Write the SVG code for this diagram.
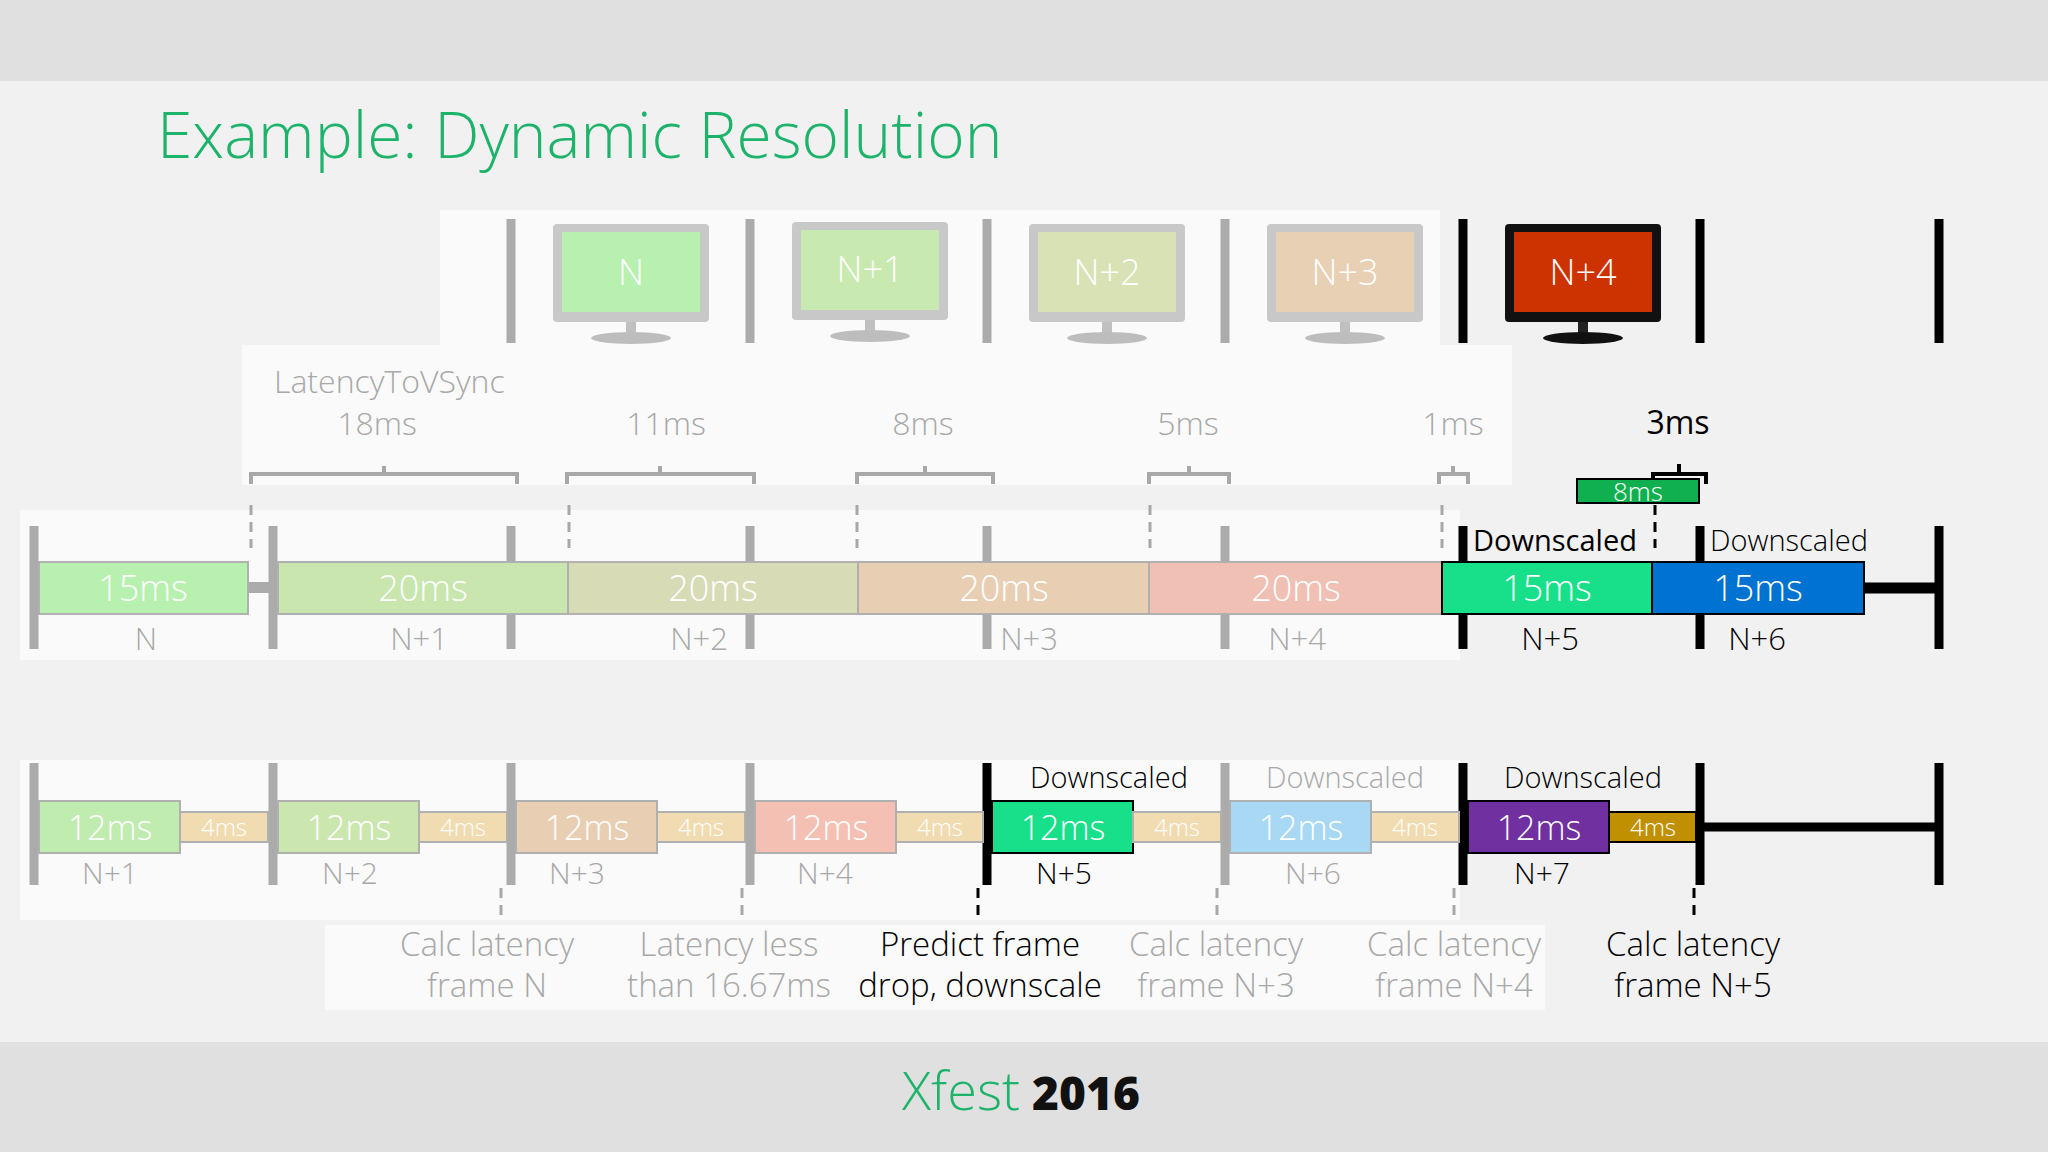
<svg xmlns="http://www.w3.org/2000/svg" width="2048" height="1152" viewBox="0 0 2048 1152">
<defs>
<style>
text{font-family:"Open Sans","Noto Sans","Liberation Sans",sans-serif;}
.lt{font-weight:300}
.g{fill:#a8a8a8}
.k{fill:#000}
.w{fill:#fff}
.tg{stroke:#ababab;stroke-width:9}
.tk{stroke:#000;stroke-width:9}
.br{fill:none;stroke:#a8a8a8;stroke-width:4}
.dg{stroke:#a8a8a8;stroke-width:3;stroke-dasharray:10,7}
.dk{stroke:#000;stroke-width:3;stroke-dasharray:10,7}
.bar{stroke:#b0b0b0;stroke-width:2}
.bk{stroke:#000;stroke-width:2}
</style>
</defs>
<rect width="2048" height="1152" fill="#f1f1f1"/>
<rect width="2048" height="81" fill="#e0e0e0"/>
<rect y="1042" width="2048" height="110" fill="#e0e0e0"/>
<rect x="440" y="210" width="1000" height="140" fill="#fafafa"/>
<rect x="242" y="345" width="1270" height="140" fill="#fafafa"/>
<rect x="20" y="510" width="1440" height="150" fill="#fafafa"/>
<rect x="20" y="760" width="1440" height="160" fill="#fafafa"/>
<rect x="325" y="925" width="1220" height="85" fill="#fafafa"/>
<text x="157" y="158" font-size="64" fill="#1db36a" class="lt">Example: Dynamic Resolution</text>

<g id="vsync-top">
<line class="tg" x1="511" y1="219" x2="511" y2="343"/>
<line class="tg" x1="750" y1="219" x2="750" y2="343"/>
<line class="tg" x1="987" y1="219" x2="987" y2="343"/>
<line class="tg" x1="1225" y1="219" x2="1225" y2="343"/>
<line class="tk" x1="1463" y1="219" x2="1463" y2="343"/>
<line class="tk" x1="1700" y1="219" x2="1700" y2="343"/>
<line class="tk" x1="1939" y1="219" x2="1939" y2="343"/>
</g>
<g id="mon-N">
<rect x="553" y="224" width="156" height="98" rx="4" fill="#c8c8c8"/><rect x="562" y="232" width="138" height="80" fill="#b8f0b0"/>
<rect x="626" y="322" width="10" height="14" fill="#c0c0c0"/><ellipse cx="631" cy="338" rx="40" ry="6" fill="#bdbdbd"/>
<text x="631" y="285" font-size="36" text-anchor="middle" class="w lt">N</text></g>
<g id="mon-N1">
<rect x="792" y="222" width="156" height="98" rx="4" fill="#c8c8c8"/><rect x="801" y="230" width="138" height="80" fill="#c8eab0"/>
<rect x="865" y="320" width="10" height="14" fill="#c0c0c0"/><ellipse cx="870" cy="336" rx="40" ry="6" fill="#bdbdbd"/>
<text x="870" y="282" font-size="36" text-anchor="middle" class="w lt">N+1</text></g>
<g id="mon-N2">
<rect x="1029" y="224" width="156" height="98" rx="4" fill="#c8c8c8"/><rect x="1038" y="232" width="138" height="80" fill="#d8e2b4"/>
<rect x="1102" y="322" width="10" height="14" fill="#c0c0c0"/><ellipse cx="1107" cy="338" rx="40" ry="6" fill="#bdbdbd"/>
<text x="1107" y="285" font-size="36" text-anchor="middle" class="w lt">N+2</text></g>
<g id="mon-N3">
<rect x="1267" y="224" width="156" height="98" rx="4" fill="#c8c8c8"/><rect x="1276" y="232" width="138" height="80" fill="#e8d0b4"/>
<rect x="1340" y="322" width="10" height="14" fill="#c0c0c0"/><ellipse cx="1345" cy="338" rx="40" ry="6" fill="#bdbdbd"/>
<text x="1345" y="285" font-size="36" text-anchor="middle" class="w lt">N+3</text></g>
<g id="mon-N4">
<rect x="1505" y="224" width="156" height="98" rx="4" fill="#111"/><rect x="1514" y="232" width="138" height="80" fill="#cc3300"/>
<rect x="1578" y="322" width="10" height="14" fill="#222"/><ellipse cx="1583" cy="338" rx="40" ry="6" fill="#111"/>
<text x="1583" y="285" font-size="36" text-anchor="middle" class="w lt">N+4</text></g>

<g id="latency-labels" font-size="32">
<text x="274" y="393" class="g lt">LatencyToVSync</text>
<text x="377" y="435" text-anchor="middle" class="g lt">18ms</text>
<text x="666" y="435" text-anchor="middle" class="g lt">11ms</text>
<text x="923" y="435" text-anchor="middle" class="g lt">8ms</text>
<text x="1188" y="435" text-anchor="middle" class="g lt">5ms</text>
<text x="1453" y="435" text-anchor="middle" class="g lt">1ms</text>
<text x="1678" y="434" text-anchor="middle" class="k">3ms</text>
</g>
<g id="brackets">
<path class="br" d="M251 484V474H517V484M384 474V466"/>
<path class="br" d="M567 484V474H754V484M660 474V466"/>
<path class="br" d="M857 484V474H993V484M925 474V466"/>
<path class="br" d="M1149 484V474H1229V484M1189 474V466"/>
<path class="br" d="M1439 484V474H1468V484M1453 474V466"/>
<path d="M1653 484V474H1706V484M1679 474V464" fill="none" stroke="#000" stroke-width="4"/>
<rect x="1577" y="479" width="122" height="24" fill="#10b050" stroke="#000" stroke-width="2"/>
<text x="1638" y="501" font-size="26" text-anchor="middle" class="w lt">8ms</text>
</g>
<g id="connectors">
<line class="dg" x1="251" y1="505" x2="251" y2="548"/>
<line class="dg" x1="569" y1="505" x2="569" y2="548"/>
<line class="dg" x1="857" y1="505" x2="857" y2="548"/>
<line class="dg" x1="1150" y1="505" x2="1150" y2="548"/>
<line class="dg" x1="1442" y1="505" x2="1442" y2="548"/>
<line class="dk" x1="1655" y1="505" x2="1655" y2="548"/>
<line class="dg" x1="501" y1="888" x2="501" y2="921"/>
<line class="dg" x1="742" y1="888" x2="742" y2="921"/>
<line class="dk" x1="978" y1="888" x2="978" y2="921"/>
<line class="dg" x1="1217" y1="888" x2="1217" y2="921"/>
<line class="dg" x1="1454" y1="888" x2="1454" y2="921"/>
<line class="dk" x1="1694" y1="888" x2="1694" y2="921"/>
</g>

<g id="row1">
<line class="tg" x1="34" y1="526" x2="34" y2="649"/>
<line class="tg" x1="273" y1="526" x2="273" y2="649"/>
<line class="tg" x1="511" y1="526" x2="511" y2="649"/>
<line class="tg" x1="750" y1="526" x2="750" y2="649"/>
<line class="tg" x1="987" y1="526" x2="987" y2="649"/>
<line class="tg" x1="1225" y1="526" x2="1225" y2="649"/>
<line class="tk" x1="1463" y1="526" x2="1463" y2="649"/>
<line class="tk" x1="1700" y1="526" x2="1700" y2="649"/>
<line class="tk" x1="1939" y1="526" x2="1939" y2="649"/>
<rect x="248" y="582" width="25" height="11" fill="#ababab"/>
<line x1="1864" y1="588" x2="1939" y2="588" stroke="#000" stroke-width="11"/>
<rect class="bar" x="39" y="562" width="209" height="52" fill="#b8f0b0"/>
<rect class="bar" x="278" y="562" width="290" height="52" fill="#c8e6ae"/>
<rect class="bar" x="568" y="562" width="290" height="52" fill="#d8dcb6"/>
<rect class="bar" x="858" y="562" width="291" height="52" fill="#e8cfb4"/>
<rect class="bar" x="1149" y="562" width="293" height="52" fill="#f0c0b4"/>
<rect class="bk" x="1442" y="562" width="210" height="52" fill="#18e08a"/>
<rect class="bk" x="1652" y="562" width="212" height="52" fill="#0072d2"/>
<g font-size="36" text-anchor="middle" class="w lt">
<text x="143" y="601">15ms</text><text x="423" y="601">20ms</text><text x="713" y="601">20ms</text>
<text x="1004" y="601">20ms</text><text x="1296" y="601">20ms</text><text x="1547" y="601">15ms</text><text x="1758" y="601">15ms</text>
</g>
<g font-size="31" text-anchor="middle">
<text x="146" y="650" class="g lt">N</text><text x="419" y="650" class="g lt">N+1</text><text x="699" y="650" class="g lt">N+2</text>
<text x="1029" y="650" class="g lt">N+3</text><text x="1297" y="650" class="g lt">N+4</text>
<text x="1550" y="650" class="k lt">N+5</text><text x="1757" y="650" class="k lt">N+6</text>
</g>
<text x="1473" y="551" font-size="29" class="k">Downscaled</text>
<text x="1710" y="551" font-size="29" class="k lt">Downscaled</text>
</g>

<g id="row2">
<line class="tg" x1="34" y1="763" x2="34" y2="885"/>
<line class="tg" x1="273" y1="763" x2="273" y2="885"/>
<line class="tg" x1="511" y1="763" x2="511" y2="885"/>
<line class="tg" x1="750" y1="763" x2="750" y2="885"/>
<line class="tk" x1="987" y1="763" x2="987" y2="885"/>
<line class="tg" x1="1225" y1="763" x2="1225" y2="885"/>
<line class="tk" x1="1463" y1="763" x2="1463" y2="885"/>
<line class="tk" x1="1700" y1="763" x2="1700" y2="885"/>
<line class="tk" x1="1939" y1="763" x2="1939" y2="885"/>
<line x1="1700" y1="827" x2="1939" y2="827" stroke="#000" stroke-width="9"/>
<rect class="bar" x="39" y="801" width="141" height="52" fill="#c0ecb0"/>
<rect class="bar" x="180" y="812" width="88" height="30" fill="#f0dcb0"/>
<rect class="bar" x="278" y="801" width="141" height="52" fill="#cce6b0"/>
<rect class="bar" x="419" y="812" width="88" height="30" fill="#f0dcb0"/>
<rect class="bar" x="516" y="801" width="141" height="52" fill="#e8cfb4"/>
<rect class="bar" x="657" y="812" width="88" height="30" fill="#f0dcb0"/>
<rect class="bar" x="755" y="801" width="141" height="52" fill="#f4c0b4"/>
<rect class="bar" x="896" y="812" width="87" height="30" fill="#f0dcb0"/>
<rect class="bk" x="992" y="801" width="141" height="52" fill="#18e08a"/>
<rect class="bar" x="1133" y="812" width="88" height="30" fill="#f0dcb0"/>
<rect class="bar" x="1230" y="801" width="141" height="52" fill="#a8d8f4"/>
<rect class="bar" x="1371" y="812" width="88" height="30" fill="#f0dcb0"/>
<rect class="bk" x="1468" y="801" width="141" height="52" fill="#7030a0"/>
<rect class="bk" x="1609" y="812" width="87" height="30" fill="#c09000"/>
<g font-size="34" text-anchor="middle" class="w lt">
<text x="110" y="840">12ms</text><text x="349" y="840">12ms</text><text x="587" y="840">12ms</text><text x="826" y="840">12ms</text>
<text x="1063" y="840">12ms</text><text x="1301" y="840">12ms</text><text x="1539" y="840">12ms</text>
</g>
<g font-size="24" text-anchor="middle" class="w lt">
<text x="224" y="836">4ms</text><text x="463" y="836">4ms</text><text x="701" y="836">4ms</text><text x="940" y="836">4ms</text>
<text x="1177" y="836">4ms</text><text x="1415" y="836">4ms</text><text x="1653" y="836">4ms</text>
</g>
<g font-size="30" text-anchor="middle">
<text x="110" y="884" class="g lt">N+1</text><text x="350" y="884" class="g lt">N+2</text><text x="577" y="884" class="g lt">N+3</text>
<text x="825" y="884" class="g lt">N+4</text><text x="1064" y="884" class="k lt">N+5</text><text x="1313" y="884" class="g lt">N+6</text><text x="1542" y="884" class="k lt">N+7</text>
</g>
<g font-size="29" text-anchor="middle">
<text x="1109" y="788" class="k lt">Downscaled</text><text x="1345" y="788" class="g lt">Downscaled</text><text x="1583" y="788" class="k lt">Downscaled</text>
</g>
</g>

<g id="notes" font-size="33" text-anchor="middle">
<text x="487" y="956" class="g lt">Calc latency</text><text x="487" y="997" class="g lt">frame N</text>
<text x="729" y="956" class="g lt">Latency less</text><text x="729" y="997" class="g lt">than 16.67ms</text>
<text x="980" y="956" class="k lt">Predict frame</text><text x="980" y="997" class="k lt">drop, downscale</text>
<text x="1216" y="956" class="g lt">Calc latency</text><text x="1216" y="997" class="g lt">frame N+3</text>
<text x="1454" y="956" class="g lt">Calc latency</text><text x="1454" y="997" class="g lt">frame N+4</text>
<text x="1693" y="956" class="k lt">Calc latency</text><text x="1693" y="997" class="k lt">frame N+5</text>
</g>
<text x="1021" y="1110" font-size="54" text-anchor="middle"><tspan fill="#1db36a" class="lt">Xfest</tspan><tspan fill="#111" font-weight="800" font-size="46"> 2016</tspan></text>
</svg>
